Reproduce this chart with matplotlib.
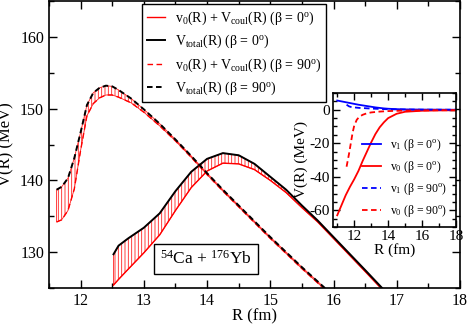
import numpy as np
import matplotlib
matplotlib.use("Agg")
import matplotlib.pyplot as plt

plt.rcParams['font.family'] = ['Liberation Serif', 'DejaVu Serif']
plt.rcParams['mathtext.fontset'] = 'custom'
plt.rcParams['mathtext.rm'] = 'Liberation Serif'
plt.rcParams['mathtext.it'] = 'Liberation Serif:italic'
plt.rcParams['axes.unicode_minus'] = False
plt.rcParams['hatch.linewidth'] = 0.6
plt.rcParams['hatch.color'] = 'red'
plt.rcParams['lines.scale_dashes'] = False

# beta = 90 deg, main panel
R90 = [11.62, 11.7, 11.8, 11.9, 12.0, 12.1, 12.2, 12.3, 12.4, 12.5, 12.6, 12.8,
       13.0, 13.25, 13.5, 13.75, 14.0, 14.25, 14.5, 14.75, 15.0, 15.25, 15.5, 15.75, 16.0]
Vtot90 = [138.7, 139.1, 140.3, 143.1, 146.7, 150.5, 152.2, 152.9, 153.2, 153.1, 152.6, 151.4,
          149.9, 147.9, 145.7, 143.4, 141.0, 138.7, 136.5, 134.3, 132.1, 130.0, 127.9, 125.9, 123.9]
Vc90 = [134.2, 134.5, 135.8, 138.8, 144.2, 149.0, 150.7, 151.5, 151.9, 151.9, 151.6, 150.8,
        149.5, 147.6, 145.5, 143.2, 140.8, 138.5, 136.3, 134.1, 131.9, 129.8, 127.7, 125.7, 123.7]

# beta = 0 deg, main panel
R0 = [12.52, 12.6, 12.75, 13.0, 13.25, 13.5, 13.75, 14.0, 14.25, 14.5, 14.75, 15.0,
      15.25, 15.5, 15.75, 16.0, 16.25, 16.5, 16.8]
Vtot0 = [129.7, 130.9, 131.9, 133.4, 135.4, 138.5, 141.2, 143.0, 143.8, 143.5, 142.3, 140.5,
         138.7, 136.5, 134.4, 132.1, 129.8, 127.5, 124.7]
Vc0 = [125.4, 126.2, 127.6, 129.9, 132.4, 135.8, 139.0, 141.3, 142.4, 142.3, 141.5, 140.0,
       138.3, 136.2, 134.2, 131.9, 129.6, 127.3, 124.5]

# inset
Ri0 = [11.0, 11.25, 11.5, 11.75, 12.0, 12.25, 12.5, 12.75, 13.0, 13.25, 13.5, 13.75,
       14.0, 14.5, 15.0, 16.0, 17.0, 18.0]
v0_0 = [-63, -57, -51, -46, -41.5, -36.5, -30.5, -25, -19.5, -14.5, -10.5, -7.5,
        -5.0, -2.4, -1.2, -0.6, -0.4, -0.3]
v1_0 = [5.5, 5.0, 4.5, 4.0, 3.5, 3.0, 2.6, 2.2, 1.8, 1.4, 1.1, 0.8,
        0.6, 0.35, 0.2, 0.1, 0.05, 0.0]
Ri90 = [11.55, 11.7, 11.8, 11.9, 12.0, 12.15, 12.3, 12.5, 12.75, 13.0, 13.5, 14.0,
        15.0, 16.0, 17.0, 18.0]
v0_90 = [-34, -26, -20, -14, -9.5, -6.0, -4.2, -3.0, -2.1, -1.6, -1.1, -0.8,
         -0.5, -0.4, -0.3, -0.3]
v1_90 = [3.0, 2.0, 1.7, 1.55, 1.4, 1.25, 1.1, 1.0, 0.85, 0.7, 0.5, 0.3,
         0.15, 0.05, 0.02, 0.0]

fig = plt.figure(figsize=(4.69, 3.24), dpi=100)
ax = fig.add_axes([49/469, 36/324, 411/469, 287/324])

# vertical red hatching between the two curves
for rr, lo, hi in [(R90, Vc90, Vtot90), (R0, Vc0, Vtot0)]:
    ax.fill_between(rr, lo, hi, facecolor='none', edgecolor='#ff2020', hatch='|||||', linewidth=0.6)

ax.plot(R0, Vc0, color='red', lw=1.0, label='v$_0$(R) + V$_{\\rm coul}$(R) (β = 0$^{\\rm o}$)')
ax.plot(R0, Vtot0, color='black', lw=1.4, label='V$_{\\rm total}$(R) (β = 0$^{\\rm o}$)')
ax.plot(R90, Vc90, color='red', lw=1.0, ls='--', dashes=(4, 2.5),
        label='v$_0$(R) + V$_{\\rm coul}$(R) (β = 90$^{\\rm o}$)')
ax.plot(R90, Vtot90, color='black', lw=1.4, ls='--', dashes=(4, 2.5),
        label='V$_{\\rm total}$(R) (β = 90$^{\\rm o}$)')

ax.set_xlim(11.5, 18)
ax.set_ylim(125, 165)
ax.set_xticks([12, 13, 14, 15, 16, 17, 18])
ax.set_xticks(np.arange(11.5, 18.01, 0.5), minor=True)
ax.set_yticks([130, 140, 150, 160])
ax.set_yticks(np.arange(125, 165.1, 5), minor=True)
ax.tick_params(which='both', direction='in', top=True, right=True, labelsize=11.5)
ax.tick_params(which='major', length=6, width=1)
ax.tick_params(which='minor', length=3.5, width=1)
for s in ax.spines.values():
    s.set_linewidth(1.2)
ax.set_xlabel('R (fm)', fontsize=12, labelpad=0)
ax.set_ylabel('V(R) (MeV)', fontsize=12, labelpad=4)

leg = ax.legend(loc='upper left', bbox_to_anchor=(0.226, 0.988), fontsize=10,
                frameon=True, fancybox=False, edgecolor='black', framealpha=1,
                handlelength=1.3, handletextpad=0.7, labelspacing=0.45, borderpad=0.35,
                borderaxespad=0)
leg.get_frame().set_linewidth(1.0)

ax.text(0.381, 0.101, '$^{54}$Ca + $^{176}$Yb', transform=ax.transAxes, fontsize=12.5,
        ha='center', va='center',
        bbox=dict(boxstyle='square,pad=0.35', facecolor='white', edgecolor='black', lw=1))

# inset
axi = fig.add_axes([333/469, 97/324, 123/469, 134/324])
axi.plot(Ri0, v1_0, color='blue', lw=1.3, label='v$_1$ (β = 0$^{\\rm o}$)')
axi.plot(Ri0, v0_0, color='red', lw=1.3, label='v$_0$ (β = 0$^{\\rm o}$)')
axi.plot(Ri90, v1_90, color='blue', lw=1.3, ls='--', dashes=(4, 2.5), label='v$_1$ (β = 90$^{\\rm o}$)')
axi.plot(Ri90, v0_90, color='red', lw=1.3, ls='--', dashes=(4, 2.5), label='v$_0$ (β = 90$^{\\rm o}$)')
axi.set_xlim(10.75, 18)
axi.set_ylim(-70, 10)
axi.set_xticks([12, 14, 16, 18])
axi.set_xticks(np.arange(11, 18.01, 1), minor=True)
axi.set_yticks([0, -20, -40, -60])
axi.set_yticks(np.arange(-70, 10.1, 5), minor=True)
axi.tick_params(which='both', direction='in', top=True, right=True, labelsize=11, pad=2)
axi.tick_params(which='major', length=5, width=1)
axi.tick_params(which='minor', length=3, width=1)
for s in axi.spines.values():
    s.set_linewidth(1.2)
axi.set_xlabel('R (fm)', fontsize=11, labelpad=0)
axi.set_ylabel('V(R) (MeV)', fontsize=11, labelpad=1)
axi.legend(loc='lower right', bbox_to_anchor=(1.0, 0.0), fontsize=8.5, frameon=False,
           handlelength=1.6, handletextpad=0.8, labelspacing=0.5, borderaxespad=0.3)

fig.savefig('out.png', dpi=100)
